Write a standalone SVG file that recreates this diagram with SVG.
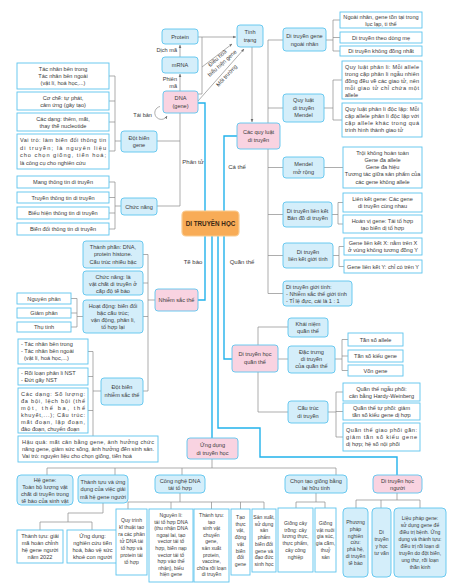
<svg xmlns="http://www.w3.org/2000/svg" width="462" height="587" viewBox="0 0 462 587">
<defs>
<marker id="ah" viewBox="0 0 6 6" refX="5.5" refY="3" markerWidth="4.5" markerHeight="4.5" orient="auto"><path d="M0,0.5 L6,3 L0,5.5 z" fill="#6e6e6e"/></marker>
<style>
text{font-family:"Liberation Sans",Arial,sans-serif;font-size:5.6px;fill:#3a3a3a;text-anchor:middle}
.l{text-anchor:start}
.e{text-anchor:end}
.s{font-size:5.1px}
.leaf{fill:#fff;stroke:#5CC4EE;stroke-width:0.9}
.cat{fill:#D4EEFA;stroke:#5CC4EE;stroke-width:0.9}
.main{fill:#F9D3E1;stroke:#5CC4EE;stroke-width:0.9}
.g{fill:none;stroke:#8a8a8a;stroke-width:0.7}
.b{fill:none;stroke:#22B2EB;stroke-width:1.4}
.lab{font-size:6px}
</style>
</defs>
<rect width="462" height="587" fill="#fff"/>

<g id="connectors">
<path class="g" d="M109,76H115M109,101H115M109,122H115M109,151H115M115,76V151M115,141H121"/>
<path class="g" d="M109,182H115M109,197.5H115M109,213H115M109,229H115M115,182V229M115,206H121"/>
<path class="g" d="M157,141H180M157,206H180M180,113V206"/>
<path class="g" d="M180,91V74" marker-end="url(#ah)"/>
<path class="g" d="M180,57V45" marker-end="url(#ah)"/>
<path class="g" d="M198,37H236" marker-end="url(#ah)"/>
<path class="g" d="M198,94H202V37"/>
<path class="g" d="M202,67L232,44" marker-end="url(#ah)"/>
<path class="g" d="M198,101L244,49" marker-end="url(#ah)"/>
<path class="g" d="M252,47V122" marker-end="url(#ah)"/>
<path class="g" d="M160,106.5A6.5,6.5 0 1 0 167,116" marker-end="url(#ah)"/>
<path class="g" d="M268,40V293.5M268,40H283M268,108H283M268,167.5H283M268,214.5H283M268,255.5H283M268,293.5H283"/>
<path class="g" d="M326,40H333M333,20V51M333,20H340M333,37.5H340M333,51H340"/>
<path class="g" d="M324,108H333M333,80V120M333,80H342M333,120H342"/>
<path class="g" d="M324,167.5H343"/>
<path class="g" d="M332,214.5H338M338,202.5V224M338,202.5H343M338,224H343"/>
<path class="g" d="M333,255.5H339M339,246.5V266.5M339,246.5H344M339,266.5H344"/>
<path class="g" d="M143,254.5H148M143,283H148M143,316.5H148M148,254.5V391M148,300H155M143,391H148"/>
<path class="g" d="M71,298.5H77M71,313H77M71,327H77M77,298.5V327M77,316.5H83"/>
<path class="g" d="M88,351.5H93M88,376.5H93M88,410.5H93M93,351.5V436M93,391H101"/>
<path class="g" d="M258,327V412M258,327H288M278,359H288M258,412H288"/>
<path class="g" d="M335,359H342M342,339.5V370.5M342,339.5H348M342,356H348M342,370.5H348"/>
<path class="g" d="M328,412H336M336,392V437M336,392H343M336,411.5H343M336,437H343"/>
<path class="g" d="M212,459V468M47,468H336M47,468V475M115,468V475M182,468V475M336,468V475"/>
<path class="g" d="M103,503V513H68V522M40,522H92M40,522V530M92,522V530"/>
<path class="g" d="M180,493V502M128,502H264M128,502V509M171,502V509M211.5,502V509M240.5,502V509M264,502V509"/>
<path class="g" d="M316,493V502M296,502H325M296,502V508M325,502V508"/>
<path class="g" d="M397,493V500M356,500H420M356,500V508M381,500V508M420,500V508"/>
<path class="b" d="M198,103H205V211"/>
<path class="b" d="M237,136H224V211"/>
<path class="b" d="M205,236V300H198"/>
<path class="b" d="M212,236V438"/>
<path class="b" d="M218,236V428H260V457H397V475"/>
<path class="b" d="M224,236V359H232"/>
</g>

<g id="labels">
<text class="e" x="177" y="52">Dịch mã</text>
<text class="e" x="177" y="81">Phiên</text>
<text class="e" x="177" y="88">mã</text>
<text class="e" x="152" y="117">Tái bản</text>
<g transform="translate(220,61) rotate(-42)"><text x="0" y="-2">Điều hoà</text><text x="0" y="5">biểu hiện gene</text></g>
<g transform="translate(226.5,75.5) rotate(-47)"><text x="0" y="2">Môi trường</text></g>
<text class="lab" x="193" y="164">Phân tử</text>
<text class="lab" x="237" y="169">Cá thể</text>
<text class="lab" x="193" y="264">Tế bào</text>
<text class="lab" x="242" y="264">Quần thể</text>
</g>

<g id="n-center"><rect x="182" y="211" width="57" height="25" rx="4" fill="#F8AC57" stroke="#F9CB90" stroke-width="1.2"/><text x="210.5" y="226" style="font-weight:bold;font-size:6.3px;fill:#3b2814">DI TRUYỀN HỌC</text></g>

<g id="n-protein"><rect class="cat" x="162" y="29" width="36" height="15" rx="3"/><text x="180" y="38.5">Protein</text></g>
<g id="n-mrna"><rect class="cat" x="162" y="57" width="36" height="16" rx="3"/><text x="180" y="67">mRNA</text></g>
<g id="n-dna"><rect class="main" x="163" y="91" width="35" height="22" rx="3"/><text x="180.5" y="100">DNA</text><text x="180.5" y="107.5">(gene)</text></g>
<g id="n-tinhtrang"><rect class="cat" x="237" y="25" width="26" height="22" rx="3"/><text x="250" y="34">Tính</text><text x="250" y="41.5">trạng</text></g>

<g id="n-dbg-1"><rect class="leaf" x="17" y="63" width="92" height="26"/><text x="63" y="71">Tác nhân bên trong</text><text x="63" y="78">Tác nhân bên ngoài</text><text x="63" y="85">(vật lí, hoá học,...)</text></g>
<g id="n-dbg-2"><rect class="leaf" x="17" y="92" width="92" height="18"/><text x="63" y="100">Cơ chế: tự phát,</text><text x="63" y="107">cảm ứng (gây tạo)</text></g>
<g id="n-dbg-3"><rect class="leaf" x="17" y="113" width="92" height="18"/><text x="63" y="121">Các dạng: thêm, mất,</text><text x="63" y="128">thay thế nucleotide</text></g>
<g id="n-dbg-4"><rect class="leaf" x="17" y="134" width="92" height="35"/><text class="l" x="20" y="142" textLength="86" lengthAdjust="spacing">Vai trò: làm biến đổi thông tin</text><text class="l" x="20" y="149.5" textLength="86" lengthAdjust="spacing">di truyền; là nguyên liệu</text><text class="l" x="20" y="157" textLength="86" lengthAdjust="spacing">cho chọn giống, tiến hoá;</text><text class="l" x="20" y="164.5">là công cụ cho nghiên cứu</text></g>
<g id="n-dotbiengene"><rect class="cat" x="121" y="131" width="36" height="21" rx="3"/><text x="139" y="139.5">Đột biến</text><text x="139" y="147">gene</text></g>

<g id="n-cn-1"><rect class="leaf" x="17" y="176" width="92" height="12"/><text x="63" y="184">Mang thông tin di truyền</text></g>
<g id="n-cn-2"><rect class="leaf" x="17" y="192" width="92" height="11"/><text x="63" y="199.5">Truyền thông tin di truyền</text></g>
<g id="n-cn-3"><rect class="leaf" x="17" y="207" width="92" height="12"/><text x="63" y="215">Biểu hiện thông tin di truyền</text></g>
<g id="n-cn-4"><rect class="leaf" x="17" y="223" width="92" height="12"/><text x="63" y="231">Biến đổi thông tin di truyền</text></g>
<g id="n-chucnang"><rect class="cat" x="121" y="198" width="36" height="17" rx="3"/><text x="139" y="208.5">Chức năng</text></g>

<g id="n-quyluat"><rect class="main" x="237" y="123" width="43" height="26" rx="3"/><text x="258.5" y="134">Các quy luật</text><text x="258.5" y="142">di truyền</text></g>

<g id="n-ngoainhan"><rect class="cat" x="283" y="28" width="43" height="23" rx="3"/><text x="304.5" y="38">Di truyền gene</text><text x="304.5" y="45.5">ngoài nhân</text></g>
<g id="n-nn-1"><rect class="leaf" x="340" y="12" width="82" height="16"/><text x="381" y="19">Ngoài nhân, gene tồn tại trong</text><text x="381" y="26">lục lạp, ti thể</text></g>
<g id="n-nn-2"><rect class="leaf" x="340" y="32" width="82" height="11"/><text x="381" y="39.5">Di truyền theo dòng mẹ</text></g>
<g id="n-nn-3"><rect class="leaf" x="340" y="46" width="82" height="10"/><text x="381" y="53">Di truyền không đồng nhất</text></g>

<g id="n-mendel"><rect class="cat" x="283" y="94" width="41" height="28" rx="3"/><text x="303.5" y="102">Quy luật</text><text x="303.5" y="109.5">di truyền</text><text x="303.5" y="117">Mendel</text></g>
<g id="n-m-1"><rect class="leaf" x="342" y="61" width="80" height="38"/><text class="l" x="345" y="69" textLength="74" lengthAdjust="spacing">Quy luật phân li: Mỗi allele</text><text class="l" x="345" y="76" textLength="74" lengthAdjust="spacing">trong cặp phân li ngẫu nhiên</text><text class="l" x="345" y="83" textLength="74" lengthAdjust="spacing">đồng đều về các giao tử, nên</text><text class="l" x="345" y="90" textLength="74" lengthAdjust="spacing">mỗi giao tử chỉ chứa một</text><text class="l" x="345" y="97">allele</text></g>
<g id="n-m-2"><rect class="leaf" x="342" y="103" width="80" height="34"/><text class="l" x="345" y="111" textLength="74" lengthAdjust="spacing">Quy luật phân li độc lập: Mỗi</text><text class="l" x="345" y="118" textLength="74" lengthAdjust="spacing">cặp allele phân li độc lập với</text><text class="l" x="345" y="125" textLength="74" lengthAdjust="spacing">cặp allele khác trong quá</text><text class="l" x="345" y="132">trình hình thành giao tử</text></g>

<g id="n-mendelmr"><rect class="cat" x="283" y="157" width="41" height="21" rx="3"/><text x="303.5" y="166">Mendel</text><text x="303.5" y="173.5">mở rộng</text></g>
<g id="n-mmr-1"><rect class="leaf" x="343" y="147" width="79" height="41"/><text x="382.5" y="155">Trội không hoàn toàn</text><text x="382.5" y="162">Gene đa allele</text><text x="382.5" y="169">Gene đa hiệu</text><text x="382.5" y="176">Tương tác giữa sản phẩm của</text><text x="382.5" y="183.5">các gene không allele</text></g>

<g id="n-lienket"><rect class="cat" x="283" y="202" width="49" height="25" rx="3"/><text x="307.5" y="212.5">Di truyền liên kết</text><text x="307.5" y="220">Bản đồ di truyền</text></g>
<g id="n-lk-1"><rect class="leaf" x="343" y="193" width="79" height="19"/><text x="382.5" y="201">Liên kết gene: Các gene</text><text x="382.5" y="208">di truyền cùng nhau</text></g>
<g id="n-lk-2"><rect class="leaf" x="343" y="215" width="79" height="18"/><text x="382.5" y="222.5">Hoán vị gene: Tái tổ hợp</text><text x="382.5" y="229.5">tạo biến dị tổ hợp</text></g>

<g id="n-lkgt"><rect class="cat" x="283" y="243" width="50" height="25" rx="3"/><text x="308" y="253.5">Di truyền</text><text x="308" y="261">liên kết giới tính</text></g>
<g id="n-lkgt-1"><rect class="leaf" x="344" y="238" width="78" height="17"/><text x="383" y="245">Gene liên kết X: nằm trên X</text><text x="383" y="252">ở vùng không tương đồng Y</text></g>
<g id="n-lkgt-2"><rect class="leaf" x="344" y="260" width="78" height="13"/><text x="383" y="268.5">Gene liên kết Y: chỉ có trên Y</text></g>

<g id="n-gioitinh"><rect class="cat" x="283" y="281" width="69" height="25" rx="3"/><text class="l" x="286" y="288.5">Di truyền giới tính:</text><text class="l" x="286" y="295.5">- Nhiễm sắc thể giới tính</text><text class="l" x="286" y="302.5">- Tỉ lệ đực, cái là 1 : 1</text></g>

<g id="n-nst"><rect class="main" x="155" y="289" width="43" height="22" rx="3"/><text x="176.5" y="302">Nhiễm sắc thể</text></g>
<g id="n-nst-1"><rect class="cat" x="83" y="241" width="60" height="27" rx="3"/><text x="113" y="249">Thành phần: DNA,</text><text x="113" y="256">protein histone.</text><text x="113" y="263.5">Cấu trúc nhiều bậc</text></g>
<g id="n-nst-2"><rect class="cat" x="83" y="271" width="60" height="24" rx="3"/><text x="113" y="278.5">Chức năng: là</text><text x="113" y="285.5">vật chất di truyền ở</text><text x="113" y="292.5">cấp độ tế bào</text></g>
<g id="n-nst-3"><rect class="cat" x="83" y="300" width="60" height="33" rx="3"/><text x="113" y="308">Hoạt động: biến đổi</text><text x="113" y="315">bậc cấu trúc;</text><text x="113" y="322">vận động, phân li,</text><text x="113" y="329">tổ hợp lại</text></g>
<g id="n-hd-1"><rect class="leaf" x="17" y="293" width="54" height="11"/><text x="44" y="300.5">Nguyên phân</text></g>
<g id="n-hd-2"><rect class="leaf" x="17" y="308" width="54" height="10"/><text x="44" y="315">Giảm phân</text></g>
<g id="n-hd-3"><rect class="leaf" x="17" y="322" width="54" height="10"/><text x="44" y="329">Thụ tinh</text></g>

<g id="n-dbnst"><rect class="cat" x="101" y="378" width="42" height="27" rx="3"/><text x="122" y="389">Đột biến</text><text x="122" y="396.5">nhiễm sắc thể</text></g>
<g id="n-dbnst-1"><rect class="leaf" x="18" y="339" width="70" height="25"/><text class="l" x="21" y="346">- Tác nhân bên trong</text><text class="l" x="21" y="353">- Tác nhân bên ngoài</text><text class="l" x="24" y="360">(vật lí, hoá học,...)</text></g>
<g id="n-dbnst-2"><rect class="leaf" x="18" y="368" width="70" height="17"/><text class="l" x="21" y="375">- Rối loạn phân li NST</text><text class="l" x="21" y="382">- Đứt gãy NST</text></g>
<g id="n-dbnst-3"><rect class="leaf" x="18" y="388" width="70" height="45"/><text class="l" x="21" y="396" textLength="64" lengthAdjust="spacing">Các dạng: Số lượng:</text><text class="l" x="21" y="403" textLength="64" lengthAdjust="spacing">đa bội, lệch bội (thể</text><text class="l" x="21" y="410" textLength="64" lengthAdjust="spacing">một, thể ba, thể</text><text class="l" x="21" y="417" textLength="64" lengthAdjust="spacing">khuyết,...); Cấu trúc:</text><text class="l" x="21" y="424" textLength="64" lengthAdjust="spacing">mất đoạn, lặp đoạn,</text><text class="l" x="21" y="431">đảo đoạn, chuyển đoạn</text></g>
<g id="n-hauqua"><rect class="leaf" x="18" y="436" width="140" height="26"/><text class="l" x="22" y="443.5" textLength="132" lengthAdjust="spacing">Hậu quả: mất cân bằng gene, ảnh hưởng chức</text><text class="l" x="22" y="450.5" textLength="132" lengthAdjust="spacing">năng gene, giảm sức sống, ảnh hưởng đến sinh sản.</text><text class="l" x="22" y="457.5">Vai trò: nguyên liệu cho chọn giống, tiến hoá</text></g>

<g id="n-quanthe"><rect class="main" x="232" y="345" width="46" height="27" rx="3"/><text x="255" y="356">Di truyền học</text><text x="255" y="363.5">quần thể</text></g>
<g id="n-khainiem"><rect class="cat" x="288" y="318" width="40" height="19" rx="3"/><text x="308" y="325.5">Khái niệm</text><text x="308" y="333">quần thể</text></g>
<g id="n-dactrung"><rect class="cat" x="288" y="346" width="47" height="27" rx="3"/><text x="311.5" y="354">Đặc trưng</text><text x="311.5" y="361">di truyền</text><text x="311.5" y="368">của quần thể</text></g>
<g id="n-dt-1"><rect class="leaf" x="348" y="333" width="55" height="13"/><text x="375.5" y="341.5">Tần số allele</text></g>
<g id="n-dt-2"><rect class="leaf" x="348" y="350" width="55" height="12"/><text x="375.5" y="358">Tần số kiểu gene</text></g>
<g id="n-dt-3"><rect class="leaf" x="348" y="365" width="55" height="11"/><text x="375.5" y="372.5">Vốn gene</text></g>
<g id="n-cautruc"><rect class="cat" x="288" y="401" width="40" height="22" rx="3"/><text x="308" y="410">Cấu trúc</text><text x="308" y="417.5">di truyền</text></g>
<g id="n-ct-1"><rect class="leaf" x="343" y="383" width="77" height="18"/><text x="381.5" y="390.5">Quần thể ngẫu phối:</text><text x="381.5" y="397.5">cân bằng Hardy-Weinberg</text></g>
<g id="n-ct-2"><rect class="leaf" x="343" y="403" width="77" height="17"/><text x="381.5" y="410">Quần thể tự phối: giảm</text><text x="381.5" y="417">tần số kiểu gene dị hợp</text></g>
<g id="n-ct-3"><rect class="leaf" x="343" y="423" width="77" height="28"/><text class="l" x="346" y="431.5" textLength="71" lengthAdjust="spacing">Quần thể giao phối gần:</text><text class="l" x="346" y="438.5" textLength="71" lengthAdjust="spacing">giảm tần số kiểu gene</text><text class="l" x="346" y="446">dị hợp; hệ số nội phối</text></g>

<g id="n-ungdung"><rect class="main" x="187" y="438" width="51" height="21" rx="3"/><text x="212.5" y="447">Ứng dụng</text><text x="212.5" y="454.5">di truyền học</text></g>
<g id="n-hegene"><rect class="cat" x="17" y="475" width="56" height="30" rx="4"/><text x="45" y="482">Hệ gene:</text><text x="45" y="489">Toàn bộ lượng vật</text><text x="45" y="496">chất di truyền trong</text><text x="45" y="503">tế bào của sinh vật</text></g>
<g id="n-thanhtuu"><rect class="cat" x="78" y="475" width="50" height="28" rx="4"/><text x="103" y="484">Thành tựu và ứng</text><text x="103" y="491">dụng của việc giải</text><text x="103" y="498.5">mã hệ gene người</text></g>
<g id="n-tt-1"><rect class="leaf" x="17" y="530" width="46" height="33"/><text x="40" y="537.5">Thành tựu: giải</text><text x="40" y="544.5">mã hoàn chỉnh</text><text x="40" y="551.5">hệ gene người</text><text x="40" y="558.5">năm 2022</text></g>
<g id="n-tt-2"><rect class="leaf" x="67" y="530" width="51" height="33"/><text x="92.5" y="537.5">Ứng dụng:</text><text x="92.5" y="544.5">nghiên cứu tiến</text><text x="92.5" y="551.5">hoá, bảo vệ sức</text><text x="92.5" y="558.5">khoẻ con người</text></g>

<g id="n-cndna"><rect class="cat" x="155" y="475" width="50" height="18" rx="4"/><text x="180" y="482.5">Công nghệ DNA</text><text x="180" y="490">tái tổ hợp</text></g>
<g id="n-cn-a"><rect class="leaf" x="116" y="509" width="31" height="66"/><text class="s" x="131.5" y="522">Quy trình</text><text class="s" x="131.5" y="529">kĩ thuật tạo</text><text class="s" x="131.5" y="536">ra các phân</text><text class="s" x="131.5" y="543">tử DNA tái</text><text class="s" x="131.5" y="550">tổ hợp và</text><text class="s" x="131.5" y="557">protein tái</text><text class="s" x="131.5" y="564">tổ hợp</text></g>
<g id="n-cn-b"><rect class="leaf" x="149" y="509" width="44" height="73"/><text class="s" x="171" y="517">Nguyên lí:</text><text class="s" x="171" y="523.6">tái tổ hợp DNA</text><text class="s" x="171" y="530.2">(thu nhận DNA</text><text class="s" x="171" y="536.8">ngoại lai, tạo</text><text class="s" x="171" y="543.4">vector tái tổ</text><text class="s" x="171" y="550">hợp, biến nạp</text><text class="s" x="171" y="556.6">vector tái tổ</text><text class="s" x="171" y="563.2">hợp vào thể</text><text class="s" x="171" y="569.8">nhận), biểu</text><text class="s" x="171" y="576.4">hiện gene</text></g>
<g id="n-cn-c"><rect class="leaf" x="194" y="509" width="35" height="73"/><text class="s" x="211.5" y="517">Thành tựu:</text><text class="s" x="211.5" y="523.6">tạo</text><text class="s" x="211.5" y="530.2">sinh vật</text><text class="s" x="211.5" y="536.8">chuyển</text><text class="s" x="211.5" y="543.4">gene,</text><text class="s" x="211.5" y="550">sản xuất</text><text class="s" x="211.5" y="556.6">protein,</text><text class="s" x="211.5" y="563.2">vaccine,</text><text class="s" x="211.5" y="569.8">chữa rối loạn</text><text class="s" x="211.5" y="576.4">di truyền</text></g>
<g id="n-cn-d"><rect class="leaf" x="231" y="509" width="19" height="66"/><text class="s" x="240.5" y="519">Tạo</text><text class="s" x="240.5" y="525.7">thực</text><text class="s" x="240.5" y="532.4">vật,</text><text class="s" x="240.5" y="539.1">động</text><text class="s" x="240.5" y="545.8">vật</text><text class="s" x="240.5" y="552.5">biến</text><text class="s" x="240.5" y="559.2">đổi</text><text class="s" x="240.5" y="565.9">gene</text></g>
<g id="n-cn-e"><rect class="leaf" x="252" y="509" width="24" height="63"/><text class="s" x="264" y="519">Sản xuất,</text><text class="s" x="264" y="525.7">sử dụng</text><text class="s" x="264" y="532.4">sản</text><text class="s" x="264" y="539.1">phẩm</text><text class="s" x="264" y="545.8">biến đổi</text><text class="s" x="264" y="552.5">gene và</text><text class="s" x="264" y="559.2">đạo đức</text><text class="s" x="264" y="565.9">sinh học</text></g>

<g id="n-chontao"><rect class="cat" x="285" y="475" width="62" height="18" rx="4"/><text x="316" y="482.5">Chọn tạo giống bằng</text><text x="316" y="490">lai hữu tính</text></g>
<g id="n-ctg-1"><rect class="leaf" x="278" y="508" width="35" height="64"/><text class="s" x="295.5" y="525">Giống cây</text><text class="s" x="295.5" y="531.7">trồng: cây</text><text class="s" x="295.5" y="538.4">lương thực,</text><text class="s" x="295.5" y="545.1">thực phẩm,</text><text class="s" x="295.5" y="551.8">cây công</text><text class="s" x="295.5" y="558.5">nghiệp</text></g>
<g id="n-ctg-2"><rect class="leaf" x="315" y="508" width="21" height="64"/><text class="s" x="325.5" y="525">Giống</text><text class="s" x="325.5" y="531.7">vật nuôi</text><text class="s" x="325.5" y="538.4">gia súc,</text><text class="s" x="325.5" y="545.1">gia cầm,</text><text class="s" x="325.5" y="551.8">thuỷ</text><text class="s" x="325.5" y="558.5">sản</text></g>

<g id="n-nguoi"><rect class="main" x="373" y="475" width="49" height="18" rx="4"/><text x="397.5" y="482.5">Di truyền học</text><text x="397.5" y="490">người</text></g>
<g id="n-ng-1"><rect class="cat" x="343" y="508" width="25" height="69" rx="4"/><text class="s" x="355.5" y="524">Phương</text><text class="s" x="355.5" y="530.8">pháp</text><text class="s" x="355.5" y="537.6">nghiên</text><text class="s" x="355.5" y="544.4">cứu:</text><text class="s" x="355.5" y="551.2">phả hệ,</text><text class="s" x="355.5" y="558">di truyền</text><text class="s" x="355.5" y="564.8">tế bào</text></g>
<g id="n-ng-2"><rect class="cat" x="372" y="508" width="19" height="69" rx="4"/><text class="s" x="381.5" y="534">Di</text><text class="s" x="381.5" y="541">truyền</text><text class="s" x="381.5" y="548">y học</text><text class="s" x="381.5" y="555">tư vấn</text></g>
<g id="n-ng-3"><rect class="cat" x="394" y="508" width="52" height="69" rx="4"/><text class="s" x="420" y="520">Liệu pháp gene:</text><text class="s" x="420" y="527">sử dụng gene để</text><text class="s" x="420" y="534">điều trị bệnh. Ứng</text><text class="s" x="420" y="541">dụng và thành tựu:</text><text class="s" x="420" y="548">điều trị rối loạn di</text><text class="s" x="420" y="555">truyền do đột biến,</text><text class="s" x="420" y="562">ung thư, rối loạn</text><text class="s" x="420" y="569">thần kinh</text></g>
</svg>
